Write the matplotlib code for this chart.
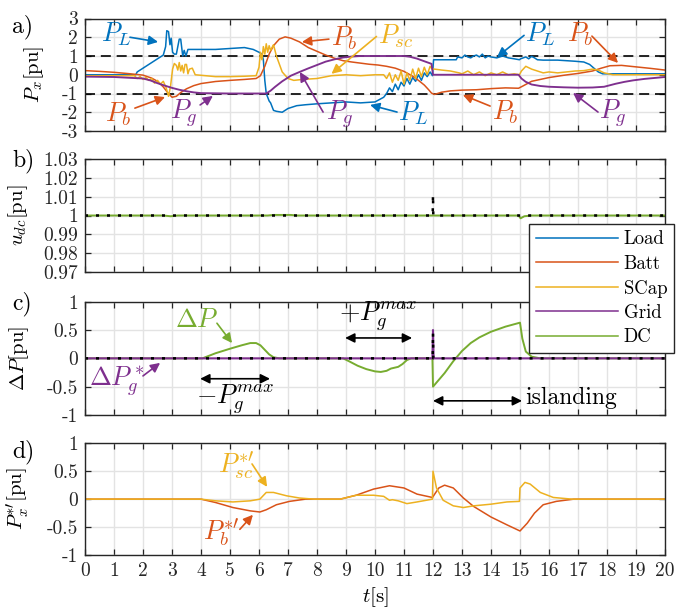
import numpy as np
import matplotlib
matplotlib.use("Agg")
import matplotlib.pyplot as plt

plt.rcParams["font.family"] = "cmr10"
plt.rcParams["mathtext.fontset"] = "cm"
plt.rcParams["axes.unicode_minus"] = False
plt.rcParams["axes.formatter.use_mathtext"] = True

C_LOAD = "#0072BD"
C_BATT = "#D95319"
C_SCAP = "#EDB120"
C_GRID = "#7E2F8E"
C_DC = "#77AC30"

# ---- a) power flows, (t [s], P [pu]) ----
load_a = [(0, 0.0), (1.75, 0.0), (1.8, 0.15), (1.9, 0.25), (2.0, 0.35), (2.1, 0.45), (2.2, 0.55),
          (2.3, 0.65), (2.4, 0.75), (2.5, 0.85), (2.6, 0.95), (2.7, 1.05), (2.78, 1.5), (2.82, 2.35),
          (2.88, 2.3), (2.93, 1.6), (2.97, 1.95), (3.02, 1.2), (3.08, 1.1), (3.15, 1.1), (3.25, 1.9),
          (3.3, 1.9), (3.37, 1.0), (3.42, 1.3), (3.48, 1.0), (3.55, 1.35), (4.0, 1.35), (4.5, 1.35),
          (5.0, 1.4), (5.5, 1.45), (5.8, 1.35), (6.0, 1.2), (6.1, 1.1), (6.15, 0.8), (6.2, -0.3),
          (6.25, -1.0), (6.3, -1.2), (6.35, -1.4), (6.4, -1.5), (6.45, -1.7), (6.5, -1.9), (6.6, -1.95),
          (6.8, -2.0), (7.0, -1.8), (7.3, -1.65), (7.6, -1.6), (8.0, -1.55), (8.5, -1.5), (9.0, -1.45),
          (9.5, -1.5), (10.0, -1.45), (10.3, -1.2), (10.4, -1.0), (10.5, -0.7), (10.6, -0.9),
          (10.7, -0.5), (10.8, -0.8), (10.9, -0.4), (11.0, -0.6), (11.1, -0.2), (11.2, -0.5),
          (11.3, -0.15), (11.4, -0.35), (11.5, 0.0), (11.6, -0.3), (11.7, 0.1), (11.8, -0.1),
          (11.9, 0.15), (11.98, -0.05), (12.02, 0.8), (12.8, 0.8), (12.85, 0.95), (13.0, 0.9),
          (13.1, 1.05), (13.2, 0.95), (13.3, 0.9), (13.4, 1.0), (13.5, 1.05), (13.6, 0.95),
          (13.7, 1.1), (13.8, 0.9), (13.9, 1.0), (14.0, 0.95), (14.2, 0.9), (14.4, 1.0), (14.6, 0.9),
          (14.8, 0.85), (14.98, 0.8), (15.02, 0.85), (15.2, 0.95), (15.3, 0.85), (15.4, 0.98),
          (15.5, 0.9), (15.6, 0.8), (15.8, 0.78), (16.0, 0.78), (16.3, 0.78), (16.6, 0.75),
          (16.9, 0.72), (17.2, 0.68), (17.4, 0.55), (17.55, 0.35), (17.7, 0.15), (17.85, 0.05),
          (18.2, 0.05), (20, 0.05)]

batt_a = [(0, 0.22), (0.5, 0.18), (1.0, 0.13), (1.5, 0.06), (2.0, -0.02), (2.3, -0.18), (2.5, -0.35),
          (2.7, -0.65), (2.85, -0.95), (3.0, -1.2), (3.15, -1.15), (3.3, -0.95), (3.5, -0.75),
          (3.75, -0.58), (4.0, -0.47), (4.5, -0.36), (5.0, -0.3), (5.5, -0.25), (5.9, -0.2),
          (6.05, -0.05), (6.2, 0.45), (6.35, 1.1), (6.5, 1.55), (6.7, 1.9), (6.9, 2.02), (7.1, 1.95),
          (7.4, 1.75), (7.7, 1.45), (8.0, 1.25), (8.3, 1.05), (8.6, 0.88), (8.9, 0.75), (9.2, 0.68),
          (9.5, 0.62), (9.8, 0.56), (10.1, 0.52), (10.4, 0.45), (10.7, 0.35), (11.0, 0.18),
          (11.3, -0.08), (11.5, -0.3), (11.7, -0.55), (11.85, -0.8), (11.95, -0.98), (12.05, -1.05),
          (12.3, -0.93), (12.6, -0.86), (13.0, -0.82), (13.5, -0.8), (14.0, -0.74), (14.5, -0.7),
          (14.95, -0.72), (15.1, -0.6), (15.4, -0.35), (15.7, -0.25), (16.0, -0.15), (16.5, -0.03),
          (17.0, 0.07), (17.5, 0.2), (17.8, 0.35), (18.1, 0.48), (18.5, 0.5), (19.0, 0.42),
          (19.5, 0.34), (20.0, 0.25)]

scap_a = [(0, -0.05), (1.7, -0.05), (1.8, -0.2), (1.9, -0.1), (2.0, -0.25), (2.1, -0.15), (2.2, -0.3),
          (2.3, -0.2), (2.4, -0.45), (2.5, -0.3), (2.6, -0.5), (2.7, -0.35), (2.8, -0.7), (2.88, -1.15),
          (2.95, -0.6), (3.02, 0.3), (3.08, 0.6), (3.15, 0.5), (3.2, 0.25), (3.25, 0.65), (3.3, 0.2),
          (3.35, 0.5), (3.4, 0.1), (3.45, 0.55), (3.5, 0.55), (3.55, 0.05), (3.6, 0.3), (3.7, 0.35),
          (3.8, 0.0), (4.5, -0.1), (5.0, -0.1), (5.5, -0.08), (5.9, -0.05), (6.0, 0.4), (6.05, 1.2),
          (6.1, 0.8), (6.15, 1.5), (6.2, 1.1), (6.25, 1.65), (6.3, 1.2), (6.35, 1.55), (6.4, 1.3),
          (6.5, 1.6), (6.6, 1.0), (6.8, 0.15), (7.0, -0.2), (7.2, -0.3), (7.5, -0.25), (8.0, -0.2),
          (8.5, -0.05), (9.0, 0.0), (9.5, -0.05), (10.0, 0.0), (10.3, 0.0), (10.4, -0.2), (10.5, 0.1),
          (10.6, -0.4), (10.7, 0.0), (10.8, -0.3), (10.9, 0.2), (11.0, -0.5), (11.1, 0.1),
          (11.2, -0.3), (11.3, 0.3), (11.4, -0.2), (11.5, 0.35), (11.6, -0.1), (11.7, 0.4),
          (11.8, 0.0), (11.9, 0.45), (11.97, 0.3), (12.05, 0.3), (12.3, 0.25), (12.6, 0.2),
          (12.9, 0.1), (13.0, 0.05), (13.2, 0.2), (13.4, 0.0), (13.6, 0.15), (13.8, -0.05),
          (14.0, 0.1), (14.2, 0.0), (14.4, 0.15), (14.6, 0.0), (14.8, 0.05), (14.98, 0.0),
          (15.05, 0.2), (15.2, 0.45), (15.4, 0.3), (15.6, 0.2), (15.8, 0.1), (16.0, 0.15),
          (16.3, 0.1), (16.6, 0.15), (16.9, 0.2), (17.2, 0.22), (17.5, 0.3), (17.7, 0.25),
          (17.9, 0.1), (18.2, 0.0), (20, 0.0)]

grid_a = [(0, -0.1), (1.0, -0.12), (2.0, -0.2), (2.25, -0.3), (2.5, -0.45), (2.75, -0.58), (3.0, -0.7),
          (3.25, -0.8), (3.5, -0.88), (3.75, -0.94), (4.0, -0.98), (5.0, -1.0), (6.0, -1.0),
          (6.25, -1.0), (6.4, -0.85), (6.55, -0.65), (6.8, -0.35), (7.1, -0.05), (7.4, 0.15),
          (7.7, 0.34), (8.0, 0.52), (8.3, 0.7), (8.6, 0.82), (8.9, 0.92), (9.2, 0.97), (9.5, 1.0),
          (10.0, 1.0), (11.0, 1.0), (11.2, 0.96), (11.45, 0.86), (11.7, 0.72), (11.95, 0.58),
          (12.0, 0.0), (13.0, 0.0), (14.0, 0.0), (14.95, 0.0), (15.05, -0.2), (15.2, -0.38),
          (15.4, -0.52), (15.7, -0.6), (16.0, -0.64), (16.5, -0.67), (17.0, -0.69), (17.5, -0.68),
          (17.9, -0.64), (18.3, -0.48), (18.6, -0.38), (18.9, -0.3), (19.3, -0.22), (20.0, -0.12)]

# ---- b) DC voltage ----
udc_dc = [(0, 1.0), (2.7, 1.0), (2.95, 0.9996), (3.2, 1.0), (6.3, 1.0), (6.5, 1.0003), (7.1, 1.0003),
          (7.3, 1.0), (14.95, 1.0), (15.02, 0.9985), (15.15, 0.9996), (15.4, 1.0), (20, 1.0)]
udc_ref = [(0, 1.0), (11.99, 1.0), (12.0, 1.011), (12.01, 1.0), (20, 1.0)]

# ---- c) power mismatch ----
dp_dc = [(0, 0.0), (4.05, 0.0), (4.5, 0.09), (5.0, 0.17), (5.4, 0.23), (5.7, 0.27), (5.9, 0.27),
         (6.05, 0.23), (6.2, 0.15), (6.35, 0.07), (6.5, 0.02), (6.7, 0.0), (8.9, 0.0), (9.1, -0.05),
         (9.4, -0.13), (9.7, -0.19), (10.0, -0.23), (10.2, -0.24), (10.4, -0.22), (10.55, -0.18),
         (10.8, -0.15), (10.95, -0.1), (11.1, -0.03), (11.25, 0.0), (11.98, 0.0), (12.0, -0.5),
         (12.2, -0.38), (12.4, -0.26), (12.7, -0.05), (13.0, 0.13), (13.3, 0.27), (13.6, 0.37),
         (14.0, 0.47), (14.5, 0.56), (15.0, 0.63), (15.08, 0.35), (15.2, 0.12), (15.4, 0.03),
         (15.7, 0.0), (20, 0.0)]
dp_grid = [(0, 0.0), (11.98, 0.0), (12.0, 0.5), (12.02, 0.0), (20, 0.0)]
dp_ref = [(0, 0.0), (11.99, 0.0), (12.0, 0.45), (12.01, 0.0), (20, 0.0)]

# ---- d) storage set-points ----
batt_d = [(0, 0.0), (4.0, 0.0), (4.5, -0.06), (5.1, -0.15), (5.7, -0.21), (6.03, -0.23), (6.25, -0.19),
          (6.6, -0.1), (7.05, -0.04), (7.6, 0.0), (8.8, 0.0), (9.35, 0.07), (9.95, 0.18), (10.5, 0.24),
          (11.0, 0.2), (11.45, 0.09), (11.98, 0.03), (12.2, 0.2), (12.4, 0.25), (12.7, 0.2),
          (13.05, 0.02), (13.4, -0.13), (14.0, -0.32), (14.55, -0.46), (15.0, -0.57), (15.25, -0.43),
          (15.5, -0.25), (15.8, -0.1), (16.25, -0.04), (16.85, 0.0), (20, 0.0)]
scap_d = [(0, 0.0), (4.0, 0.0), (4.5, -0.03), (5.1, -0.05), (5.7, -0.03), (6.03, 0.0), (6.25, 0.12),
          (6.5, 0.12), (6.95, 0.06), (7.4, 0.02), (7.9, 0.0), (8.8, 0.0), (9.35, 0.07), (9.95, 0.07),
          (10.3, 0.05), (10.5, -0.02), (10.6, -0.01), (10.8, -0.03), (11.1, -0.08), (11.45, -0.05),
          (11.98, 0.0), (12.0, 0.5), (12.12, 0.2), (12.35, -0.02), (12.7, -0.12), (13.05, -0.15),
          (13.4, -0.12), (14.0, -0.09), (14.55, -0.05), (14.98, -0.04), (15.0, 0.2), (15.17, 0.3),
          (15.35, 0.27), (15.7, 0.12), (16.15, 0.03), (16.8, 0.0), (20, 0.0)]

a_yticks = [-3, -2, -1, 0, 1, 2, 3]
b_yticks = [0.97, 0.98, 0.99, 1.0, 1.01, 1.02, 1.03]
b_ylabels = ["0.97", "0.98", "0.99", "1", "1.01", "1.02", "1.03"]
cd_yticks = [-1, -0.5, 0, 0.5, 1]
cd_ylabels = ["-1", "-0.5", "0", "0.5", "1"]
x_ticks = list(range(0, 21))

LW = 1.1
TICK_FS = 14
DOTS = (0, (1.2, 3.2))


def xy(pairs):
    arr = np.array(pairs, dtype=float)
    return arr[:, 0], arr[:, 1]


def style(ax, yticks, ylabels, ylim, show_x=False):
    ax.set_xlim(0, 20)
    ax.set_ylim(*ylim)
    ax.set_xticks(x_ticks)
    ax.set_yticks(yticks)
    ax.set_yticklabels(ylabels, fontsize=TICK_FS)
    if show_x:
        ax.set_xticklabels([str(v) for v in x_ticks], fontsize=TICK_FS)
    else:
        ax.set_xticklabels([])
    ax.tick_params(direction="in", length=4, width=0.9, colors="#262626",
                   top=True, right=True, pad=5)
    ax.grid(True, color="#e3e3e3", linewidth=1.0)
    ax.set_axisbelow(True)
    for s in ax.spines.values():
        s.set_color("#262626")
        s.set_linewidth(1.0)


def arrow(ax, tail, head, color, style="-|>"):
    ax.annotate("", xy=head, xytext=tail,
                arrowprops=dict(arrowstyle=style, color=color, lw=1.2,
                                mutation_scale=14, shrinkA=0, shrinkB=0))


fig = plt.figure(figsize=(6.91, 6.08), dpi=100)
W, H = 691.0, 608.0


def axes_px(left, top, right, bottom):
    return fig.add_axes([left / W, 1 - bottom / H, (right - left) / W, (bottom - top) / H])


ax_a = axes_px(85, 18.5, 665, 131)
ax_b = axes_px(85, 159, 665, 272)
ax_c = axes_px(85, 301.7, 665, 415)
ax_d = axes_px(85, 443.3, 665, 555)

# --- a) ---
ax_a.axhline(1, color="k", lw=1.2, ls=(0, (6, 3.5)), zorder=1)
ax_a.axhline(-1, color="k", lw=1.2, ls=(0, (6, 3.5)), zorder=1)
h_load, = ax_a.plot(*xy(load_a), color=C_LOAD, lw=LW, label="Load")
h_batt, = ax_a.plot(*xy(batt_a), color=C_BATT, lw=LW, label="Batt")
h_scap, = ax_a.plot(*xy(scap_a), color=C_SCAP, lw=LW, label="SCap")
h_grid, = ax_a.plot(*xy(grid_a), color=C_GRID, lw=1.35, label="Grid")
style(ax_a, a_yticks, [str(v) for v in a_yticks], (-3, 3))
ax_a.set_ylabel(r"$P_x[\mathrm{pu}]$", fontsize=15)
ax_a.yaxis.set_label_coords(-0.067, 0.5)

FS_ANN = 19
ann_a = [
    (r"$P_L$", C_LOAD, (1.10, 2.16), (1.55, 2.0), (2.52, 1.75)),
    (r"$P_b$", C_BATT, (1.14, -2.09), (1.72, -1.78), (2.76, -1.19)),
    (r"$P_g$", C_GRID, (3.41, -2.04), (3.97, -1.61), (4.41, -1.13)),
    (r"$P_b$", C_BATT, (8.93, 1.96), (8.41, 1.9), (7.48, 1.75)),
    (r"$P_{sc}$", C_SCAP, (10.7, 2.07), (10.05, 2.04), (8.5, 0.05)),
    (r"$P_g$", C_GRID, (8.79, -2.09), (8.21, -1.99), (7.41, 0.15)),
    (r"$P_L$", C_LOAD, (11.31, -2.04), (10.76, -1.99), (9.83, -1.61)),
    (r"$P_b$", C_BATT, (14.48, -1.99), (13.97, -1.67), (13.03, -1.08)),
    (r"$P_L$", C_LOAD, (15.69, 2.17), (15.14, 2.1), (14.21, 0.95)),
    (r"$P_b$", C_BATT, (17.07, 2.17), (17.48, 2.06), (18.38, 0.63)),
    (r"$P_g$", C_GRID, (18.2, -2.04), (17.69, -1.99), (16.83, -0.97)),
]
for txt, col, pos, tail, head in ann_a:
    ax_a.text(*pos, txt, color=col, fontsize=FS_ANN, ha="center", va="center")
    arrow(ax_a, tail, head, col)

# --- b) ---
ax_b.plot(*xy(udc_dc), color=C_DC, lw=1.4)
ax_b.plot(*xy(udc_ref), color="k", lw=1.8, ls=DOTS)
style(ax_b, b_yticks, b_ylabels, (0.97, 1.03))
ax_b.set_ylabel(r"$u_{dc}[\mathrm{pu}]$", fontsize=15)
ax_b.yaxis.set_label_coords(-0.095, 0.5)

# --- c) ---
h_dc, = ax_c.plot(*xy(dp_dc), color=C_DC, lw=1.4, label="DC")
ax_c.plot(*xy(dp_grid), color=C_GRID, lw=1.5)
ax_c.plot(*xy(dp_ref), color="k", lw=1.8, ls=DOTS)
style(ax_c, cd_yticks, cd_ylabels, (-1, 1))
ax_c.set_ylabel(r"$\Delta P[\mathrm{pu}]$", fontsize=15)
ax_c.yaxis.set_label_coords(-0.093, 0.5)

ax_c.text(3.86, 0.68, r"$\Delta P$", color=C_DC, fontsize=FS_ANN, ha="center", va="center")
arrow(ax_c, (4.55, 0.62), (5.07, 0.27), C_DC)
ax_c.text(1.10, -0.42, r"$\Delta P_g^*$", color=C_GRID, fontsize=FS_ANN, ha="center", va="center")
arrow(ax_c, (2.0, -0.31), (2.59, -0.08), C_GRID)
arrow(ax_c, (3.97, -0.36), (6.38, -0.36), "k", "<|-|>")
ax_c.text(5.17, -0.74, r"$-P_g^{max}$", color="k", fontsize=FS_ANN, ha="center", va="center")
arrow(ax_c, (8.97, 0.36), (11.28, 0.36), "k", "<|-|>")
ax_c.text(10.1, 0.74, r"$+P_g^{max}$", color="k", fontsize=FS_ANN, ha="center", va="center")
arrow(ax_c, (12.0, -0.75), (15.07, -0.75), "k", "<|-|>")
ax_c.text(15.17, -0.70, "islanding", color="k", fontsize=17, ha="left", va="center")

# --- d) ---
ax_d.plot(*xy(batt_d), color=C_BATT, lw=LW)
ax_d.plot(*xy(scap_d), color=C_SCAP, lw=LW)
style(ax_d, cd_yticks, cd_ylabels, (-1, 1), show_x=True)
ax_d.set_ylabel(r"$P_x^{*\prime}[\mathrm{pu}]$", fontsize=15)
ax_d.yaxis.set_label_coords(-0.093, 0.5)
ax_d.set_xlabel(r"$t[\mathrm{s}]$", fontsize=15, labelpad=4)

ax_d.text(5.21, 0.59, r"$P_{sc}^{*\prime}$", color=C_SCAP, fontsize=FS_ANN, ha="center", va="center")
arrow(ax_d, (5.76, 0.63), (6.28, 0.22), C_SCAP)
ax_d.text(4.69, -0.61, r"$P_b^{*\prime}$", color=C_BATT, fontsize=FS_ANN, ha="center", va="center")
arrow(ax_d, (5.34, -0.54), (5.79, -0.28), C_BATT)

# panel letters
for letter, ypx in [("a)", 27), ("b)", 161), ("c)", 304), ("d)", 452)]:
    fig.text(12 / W, 1 - ypx / H, letter, fontsize=17, ha="left", va="center")

leg = fig.legend([h_load, h_batt, h_scap, h_grid, h_dc],
                 ["Load", "Batt", "SCap", "Grid", "DC"],
                 loc="upper left", bbox_to_anchor=(529 / W, 1 - 224 / H),
                 frameon=True, fancybox=False, fontsize=13.5,
                 handlelength=4.4, handletextpad=0.3, labelspacing=0.35,
                 borderpad=0.35, borderaxespad=0)
leg.get_frame().set_edgecolor("#262626")
leg.get_frame().set_linewidth(1.0)
leg.get_frame().set_alpha(1.0)
for line in leg.get_lines():
    line.set_linewidth(1.1)

fig.savefig("out.png", dpi=100)
